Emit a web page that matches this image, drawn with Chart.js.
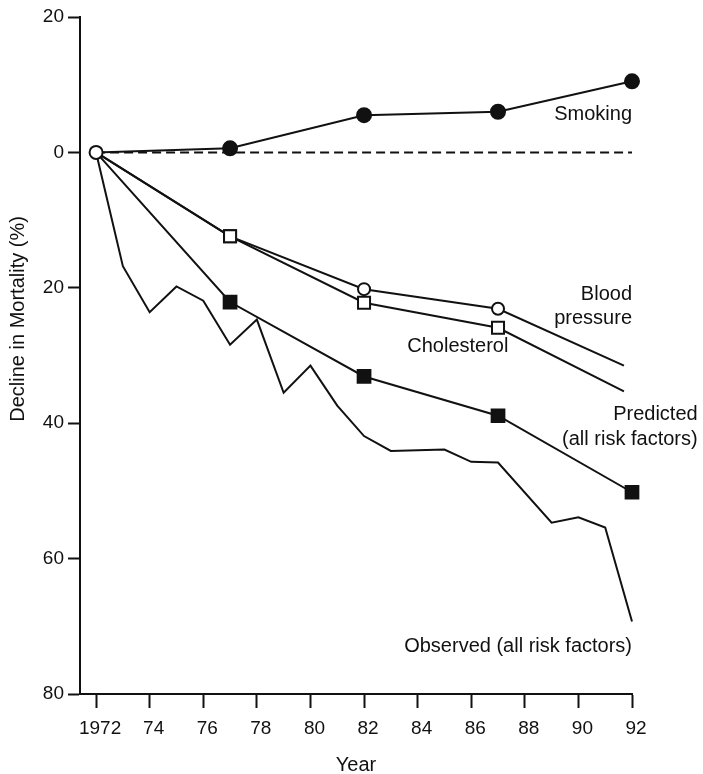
<!DOCTYPE html>
<html>
<head>
<meta charset="utf-8">
<script src="https://cdn.jsdelivr.net/npm/chart.js@4.4.1/dist/chart.umd.min.js"></script>
<style>
  body { margin: 0; background: #fff; }
  canvas { display: block; }
</style>
</head>
<body>
<canvas id="mortalidad" width="703" height="774"></canvas>
<script>
// decline in mortality (%), positive = decline, negative = increase
const years = [1972, 1977, 1982, 1987, 1992];
const smoking = [0, -0.6, -5.5, -6.0, -10.5];
const predicted = [0, 22.1, 33.1, 38.9, 50.2];

const bpYears = [1972, 1977, 1982, 1987, 1991.7];
const bloodPressure = [0, 12.4, 20.2, 23.1, 31.5];
const cholesterol = [0, 12.4, 22.2, 25.9, 35.3];

const observedYears = [1972, 1973, 1974, 1975, 1976, 1977, 1978, 1979, 1980, 1981, 1982, 1983, 1985, 1986, 1987, 1989, 1990, 1991, 1992];
const observed = [0, 16.8, 23.6, 19.8, 21.9, 28.4, 24.7, 35.5, 31.5, 37.4, 41.9, 44.1, 43.9, 45.7, 45.8, 54.7, 53.9, 55.4, 69.3];

const zeroYears = [1972, 1992];
const zeroLine = [0, 0];

const xTicks = [1972, 1974, 1976, 1978, 1980, 1982, 1984, 1986, 1988, 1990, 1992];
const xTickLabels = ['1972', '74', '76', '78', '80', '82', '84', '86', '88', '90', '92'];
const yTicks = [-20, 0, 20, 40, 60, 80];
const yTickLabels = ['20', '0', '20', '40', '60', '80'];

const ink = '#111';
const family = "'Liberation Sans', Arial, Helvetica, sans-serif";

const pts = (xs, ys) => xs.map((x, i) => ({ x: x, y: ys[i] }));

// text set beside the lines, placed in data units
const notes = [
  { text: 'Smoking', year: 1992, value: -5.6, align: 'right' },
  { text: 'Blood', year: 1992, value: 21.0, align: 'right' },
  { text: 'pressure', year: 1992, value: 24.6, align: 'right' },
  { text: 'Cholesterol', year: 1985.5, value: 28.7, align: 'center' },
  { text: 'Predicted', year: 1994.45, value: 38.7, align: 'right' },
  { text: '(all risk factors)', year: 1994.45, value: 42.4, align: 'right' },
  { text: 'Observed (all risk factors)', year: 1992, value: 73.0, align: 'right' }
];

const notesPlugin = {
  id: 'notes',
  afterDatasetsDraw(chart) {
    const { ctx, scales: { x, y } } = chart;
    ctx.save();
    ctx.font = '20px ' + family;
    ctx.fillStyle = ink;
    ctx.textBaseline = 'middle';
    notes.forEach(n => {
      ctx.textAlign = n.align;
      ctx.fillText(n.text, x.getPixelForValue(n.year), y.getPixelForValue(n.value));
    });
    // y axis title sits above the middle of the axis
    ctx.translate(18, y.getPixelForValue(24.6));
    ctx.rotate(-Math.PI / 2);
    ctx.textAlign = 'center';
    ctx.fillText('Decline in Mortality (%)', 0, 0);
    ctx.restore();
  }
};

const line = {
  borderColor: ink,
  borderWidth: 2,
  pointBorderColor: ink,
  pointBorderWidth: 2,
  tension: 0,
  clip: false
};

new Chart(document.getElementById('mortalidad'), {
  type: 'line',
  data: {
    datasets: [
      {
        ...line,
        label: 'Blood pressure',
        data: pts(bpYears, bloodPressure),
        pointStyle: ['circle', 'rect', 'circle', 'circle', 'circle'],
        pointRadius: [6.5, 8.5, 6, 6, 0],
        pointBackgroundColor: '#fff'
      },
      {
        ...line,
        label: 'Cholesterol',
        data: pts(bpYears, cholesterol),
        pointStyle: 'rect',
        pointRadius: [0, 8.5, 8.5, 8.5, 0],
        pointBackgroundColor: '#fff'
      },
      {
        ...line,
        label: 'Smoking',
        data: pts(years, smoking),
        pointStyle: 'circle',
        pointRadius: [0, 7, 7, 7, 7],
        pointBackgroundColor: ink
      },
      {
        ...line,
        label: 'Predicted (all risk factors)',
        data: pts(years, predicted),
        pointStyle: 'rect',
        pointRadius: [0, 9, 9, 9, 9],
        pointBackgroundColor: ink
      },
      {
        ...line,
        label: 'Observed (all risk factors)',
        data: pts(observedYears, observed),
        pointRadius: 0
      },
      {
        ...line,
        label: 'No change',
        data: pts(zeroYears, zeroLine),
        borderDash: [9, 5],
        pointRadius: 0
      }
    ]
  },
  options: {
    responsive: false,
    animation: false,
    devicePixelRatio: 1,
    events: [],
    layout: { padding: { top: 17, right: 71, bottom: 0, left: 0 } },
    plugins: {
      legend: { display: false },
      tooltip: { enabled: false }
    },
    scales: {
      x: {
        type: 'linear',
        min: 1971.4,
        max: 1992,
        afterBuildTicks: s => { s.ticks = xTicks.map(v => ({ value: v })); },
        afterFit: s => { s.height = 80; },
        ticks: {
          autoSkip: false,
          maxRotation: 0,
          padding: 9,
          labelOffset: 4,
          color: ink,
          font: { family: family, size: 19 },
          callback: (v, i) => xTickLabels[i]
        },
        grid: { drawOnChartArea: false, tickLength: 14, tickWidth: 2, tickColor: ink },
        border: { display: true, width: 2, color: ink },
        title: {
          display: true,
          text: 'Year',
          color: ink,
          padding: { top: 0, bottom: -1 },
          font: { family: family, size: 20, lineHeight: 1 }
        }
      },
      y: {
        type: 'linear',
        reverse: true,
        min: -20,
        max: 80,
        afterBuildTicks: s => { s.ticks = yTicks.map(v => ({ value: v })); },
        afterFit: s => { s.width = 80; },
        ticks: {
          padding: 4,
          color: ink,
          font: { family: family, size: 19 },
          callback: (v, i) => yTickLabels[i]
        },
        grid: { drawOnChartArea: false, tickLength: 12, tickWidth: 2, tickColor: ink },
        border: { display: true, width: 2, color: ink }
      }
    }
  },
  plugins: [notesPlugin]
});
</script>
</body>
</html>
